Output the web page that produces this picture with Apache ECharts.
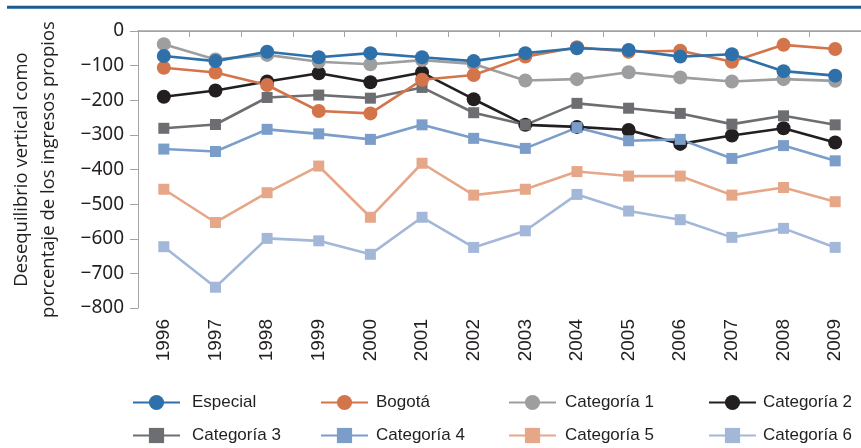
<!DOCTYPE html>
<html>
<head>
<meta charset="utf-8">
<script src="https://cdn.jsdelivr.net/npm/echarts@6/dist/echarts.min.js"></script>
<style>
html,body{margin:0;padding:0;background:#fff;}
#chart{width:861px;height:448px;}
</style>
</head>
<body>
<div id="chart"></div>
<script>
const years = ['1996','1997','1998','1999','2000','2001','2002','2003','2004','2005','2006','2007','2008','2009'];
const yTicks = [0,-100,-200,-300,-400,-500,-600,-700,-800];
const especial = [-72,-87,-60,-76,-64,-76,-87,-64,-50,-55,-74,-67,-116,-129];
const bogota = [-106,-120,-156,-231,-238,-141,-127,-74,-47,-60,-57,-89,-40,-52];
const cat1 = [-38,-82,-69,-89,-96,-84,-95,-143,-139,-119,-134,-146,-139,-144];
const cat2 = [-190,-172,-146,-122,-148,-120,-197,-271,-277,-286,-326,-302,-281,-322];
const cat3 = [-281,-270,-192,-185,-194,-163,-236,-271,-209,-223,-238,-269,-245,-271];
const cat4 = [-341,-348,-284,-297,-313,-271,-310,-339,-279,-317,-313,-368,-331,-375];
const cat5 = [-457,-553,-467,-390,-538,-382,-474,-457,-406,-419,-419,-474,-452,-493];
const cat6 = [-623,-740,-599,-606,-645,-538,-625,-577,-472,-520,-545,-596,-570,-625];

const seriesDefs = [
  {name:'Categoría 6', data:cat6, color:'#a3b8d9', symbol:'rect', size:11},
  {name:'Categoría 5', data:cat5, color:'#e6a688', symbol:'rect', size:11},
  {name:'Categoría 2', data:cat2, color:'#231f20', symbol:'circle', size:14},
  {name:'Categoría 3', data:cat3, color:'#6d6e71', symbol:'rect', size:11},
  {name:'Categoría 4', data:cat4, color:'#7a9dca', symbol:'rect', size:11},
  {name:'Categoría 1', data:cat1, color:'#9d9ea0', symbol:'circle', size:14},
  {name:'Bogotá', data:bogota, color:'#d4744a', symbol:'circle', size:14},
  {name:'Especial', data:especial, color:'#2e70a9', symbol:'circle', size:14}
];
const legendCols = [['Especial','Categoría 3'],['Bogotá','Categoría 4'],['Categoría 1','Categoría 5'],['Categoría 2','Categoría 6']];
const legendLefts = [132,320,508,708];
const legendPad = [7,3,4,2];

const chart = echarts.init(document.getElementById('chart'), null, {renderer:'canvas'});
const option = {
  animation:false,
  backgroundColor:'#ffffff',
  grid:{left:131, top:31, width:733, height:277, containLabel:false},
  xAxis:[{
    type:'category', data:years, boundaryGap:true, position:'bottom',
    axisLine:{lineStyle:{color:'#a3a3a3', width:1}},
    axisTick:{show:true, length:6, lineStyle:{color:'#a3a3a3'}, alignWithLabel:false},
    axisLabel:{rotate:90, margin:11, fontFamily:'Liberation Sans', fontSize:19, color:'#231f20'},
    splitLine:{show:false}
  },{
    type:'category', data:years, position:'top',
    axisLine:{lineStyle:{color:'#a3a3a3', width:1.5}},
    axisTick:{show:false}, axisLabel:{show:false}, splitLine:{show:false}
  }],
  yAxis:{
    type:'value', min:-800, max:0, interval:100,
    axisLine:{show:true, lineStyle:{color:'#a3a3a3', width:1}},
    axisTick:{show:true, length:8, lineStyle:{color:'#a3a3a3'}},
    splitLine:{show:false},
    axisLabel:{margin:14, fontFamily:'Noto Sans', fontSize:19, color:'#231f20',
      formatter:v=>String(v).replace('-','\u2212')},
    name:'Desequilibrio vertical como\nporcentaje de los ingresos propios',
    nameLocation:'middle', nameGap:76, nameRotate:90,
    nameTextStyle:{fontFamily:'Open Sans', fontSize:18.5, lineHeight:27, color:'#231f20'}
  },
  legend: legendCols.map((col,i)=>({
    data:col, orient:'vertical', left:legendLefts[i], top:394, itemGap:16,
    itemWidth:47, itemHeight:19, padding:0, selectedMode:false,
    textStyle:{fontFamily:'Liberation Sans', fontSize:17, color:'#231f20', padding:[0,0,0,legendPad[i]]}
  })),
  graphic:[{type:'rect', shape:{x:7, y:5.7, width:854, height:3}, style:{fill:'#1b5c90'}, silent:true}],
  series: seriesDefs.map(s=>({
    name:s.name, type:'line', data:s.data, symbol:s.symbol, symbolSize:s.size,
    showSymbol:true, color:s.color,
    lineStyle:{color:s.color, width:2.6}, itemStyle:{color:s.color},
    emphasis:{disabled:true}
  }))
};
chart.setOption(option);
</script>
</body>
</html>
